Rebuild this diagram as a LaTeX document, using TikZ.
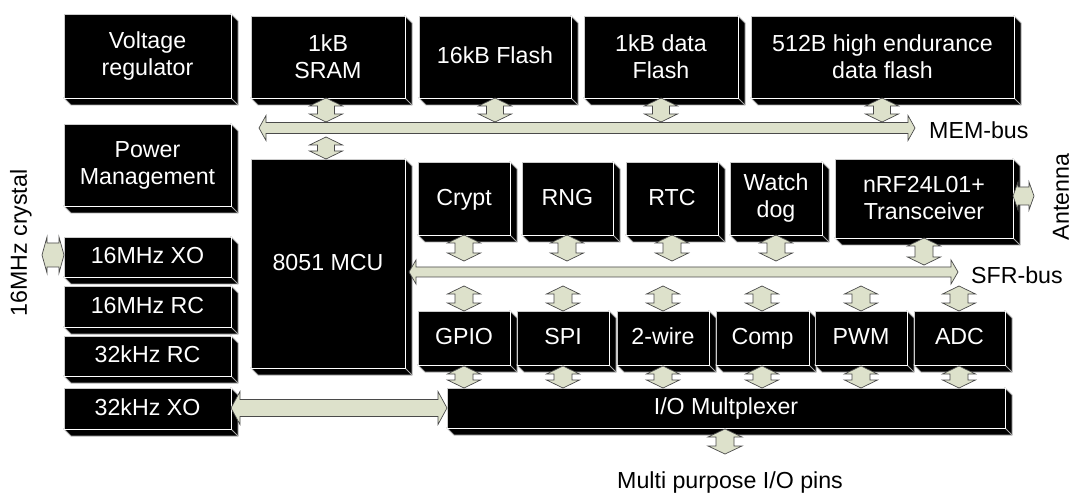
\documentclass[tikz,border=0pt]{standalone}
\usepackage{fontspec}
\setmainfont{Liberation Sans}
\usetikzlibrary{calc}
\definecolor{arrfill}{HTML}{DDE1CB}
\definecolor{arrline}{HTML}{4A4A4A}
\tikzset{
 blk/.style={fill=black, draw=white!80!black, line width=0.8pt, text=white, align=center,
   inner sep=0pt, outer sep=0pt, font=\fontsize{23.2}{27}\selectfont},
 one/.style={text height=16.6pt, text depth=3pt},
 bevel/.style={fill=black, draw=gray!70, line width=0.8pt, line join=miter},
 fat/.style={fill=arrfill, draw=arrline, line width=0.7pt, line join=miter},
 lbl/.style={font=\fontsize{23.2}{27}\selectfont, text=black, inner sep=0pt}
}
% vertical double fat arrow: x, ytop, ybot, halfhead, halfstem, headlen
\newcommand\vdarr[6]{%
 \filldraw[fat] (#1,#2) -- ({#1+#4},{#2+#6}) -- ({#1+#5},{#2+#6}) -- ({#1+#5},{#3-#6}) -- ({#1+#4},{#3-#6}) -- (#1,#3) -- ({#1-#4},{#3-#6}) -- ({#1-#5},{#3-#6}) -- ({#1-#5},{#2+#6}) -- ({#1-#4},{#2+#6}) -- cycle;}
% horizontal double fat arrow: y, xleft, xright, halfhead, halfstem, headlen
\newcommand\hdarr[6]{%
 \filldraw[fat] (#2,#1) -- ({#2+#6},{#1-#4}) -- ({#2+#6},{#1-#5}) -- ({#3-#6},{#1-#5}) -- ({#3-#6},{#1-#4}) -- (#3,#1) -- ({#3-#6},{#1+#4}) -- ({#3-#6},{#1+#5}) -- ({#2+#6},{#1+#5}) -- ({#2+#6},{#1+#4}) -- cycle;}
% block with bevel: [style] name, x0, y0, x1, y1, text
\newcommand\blockbox[7][]{%
 \filldraw[bevel] ({#3},{#6}) -- ({#3+7},{#6+7}) -- ({#5+7},{#6+7}) -- ({#5+7},{#4+7}) -- ({#5},{#4}) -- ({#5},{#6}) -- cycle;
 \draw[bevel] ({#5},{#6}) -- ({#5+7},{#6+7});
 \node[blk, #1, minimum width={(#5)-(#3)}, minimum height={(#6)-(#4)}] (#2) at ({(#3+#5)/2},{(#4+#6)/2}) {#7};
 \draw[draw=white, line width=0.8pt] (#2.south west) -- (#2.south east) -- (#2.north east);
}
\begin{document}
\begin{tikzpicture}[x=1pt,y=-1pt]
\fill[white] (0,0) rectangle (1073,494);
\useasboundingbox (0,0) rectangle (1073,494);
% top row
\blockbox{vreg}{64}{14}{231}{98}{Voltage\\regulator}
\blockbox{sram}{251}{16}{405}{98}{1kB\\SRAM}
\blockbox[one]{flash}{419}{16}{571}{98}{16kB Flash}
\blockbox{dflash}{584}{16}{738}{98}{1kB data\\Flash}
\blockbox{heflash}{751}{16}{1014}{98}{512B high endurance\\data flash}
% left column
\blockbox{pm}{64}{124}{231}{206}{Power\\Management}
\blockbox[one]{xo16}{64}{237}{231}{277}{16MHz XO}
\blockbox[one]{rc16}{64}{286}{231}{327}{16MHz RC}
\blockbox[one]{rc32}{64}{336}{231}{376}{32kHz RC}
\blockbox[one]{xo32}{64}{388}{231}{429}{32kHz XO}
% MCU
\blockbox[one]{mcu}{251}{159}{405}{368}{8051 MCU}
% upper peripherals
\blockbox[one]{crypt}{418}{162}{510}{235}{Crypt}
\blockbox[one]{rng}{522}{162}{613}{235}{RNG}
\blockbox[one]{rtc}{626}{162}{718}{235}{RTC}
\blockbox{wdog}{730}{162}{822}{235}{Watch\\dog}
\blockbox{nrf}{835}{159}{1013}{238}{nRF24L01+\\Transceiver}
% lower peripherals
\blockbox[one]{gpio}{418}{311}{510}{365}{GPIO}
\blockbox[one]{spi}{517}{311}{609}{365}{SPI}
\blockbox[one]{twi}{617}{311}{709}{365}{2-wire}
\blockbox[one]{comp}{716}{311}{809}{365}{Comp}
\blockbox[one]{pwm}{815}{311}{907}{365}{PWM}
\blockbox[one]{adc}{914}{311}{1005}{365}{ADC}
% mux
\blockbox[one]{iomux}{447}{388}{1005}{428}{I/O Multplexer}
% buses
\hdarr{128}{259}{915}{12.5}{5.5}{7}
\hdarr{272}{409}{958}{12}{5}{7}
% memory arrows
\vdarr{326}{98}{122}{16.5}{8.5}{8}
\vdarr{495}{98}{122}{16.5}{8.5}{8}
\vdarr{661}{98}{122}{16.5}{8.5}{8}
\vdarr{882}{98}{122}{16.5}{8.5}{8}
\vdarr{326}{137}{159}{16.5}{8.5}{8}
% upper SFR arrows
\vdarr{464}{235}{261}{16.5}{9}{8}
\vdarr{567}{235}{261}{16.5}{9}{8}
\vdarr{672}{235}{261}{16.5}{9}{8}
\vdarr{776}{235}{261}{16.5}{9}{8}
\vdarr{924}{238}{265}{16.5}{9}{8}
% lower SFR arrows
\vdarr{464}{286}{311}{16.5}{9}{8}
\vdarr{563}{286}{311}{16.5}{9}{8}
\vdarr{663}{286}{311}{16.5}{9}{8}
\vdarr{762}{286}{311}{16.5}{9}{8}
\vdarr{861}{286}{311}{16.5}{9}{8}
\vdarr{959}{286}{311}{16.5}{9}{8}
% to mux
\vdarr{464}{366}{388}{16.5}{9}{8}
\vdarr{563}{366}{388}{16.5}{9}{8}
\vdarr{663}{366}{388}{16.5}{9}{8}
\vdarr{762}{366}{388}{16.5}{9}{8}
\vdarr{861}{366}{388}{16.5}{9}{8}
\vdarr{959}{366}{388}{16.5}{9}{8}
% output
\vdarr{725}{429}{454}{17}{9}{8}
% xo32 to mux
\hdarr{408}{231}{447}{16.5}{8.5}{9}
% crystal and antenna
\hdarr{255}{42}{64}{18}{12}{5}
\hdarr{196}{1013}{1034}{14}{9}{5}
% labels
\node[lbl, anchor=west] (memlbl) at (929,130) {MEM-bus};
\node[lbl, anchor=west] (sfrlbl) at (971,275) {SFR-bus};
\node[lbl, rotate=90] (xtal) at (21,243) {16MHz crystal};
\node[lbl, rotate=90] (ant) at (1061,197) {Antenna};
\node[lbl] (pins) at (730,482) {Multi purpose I/O pins};
\end{tikzpicture}
\end{document}
